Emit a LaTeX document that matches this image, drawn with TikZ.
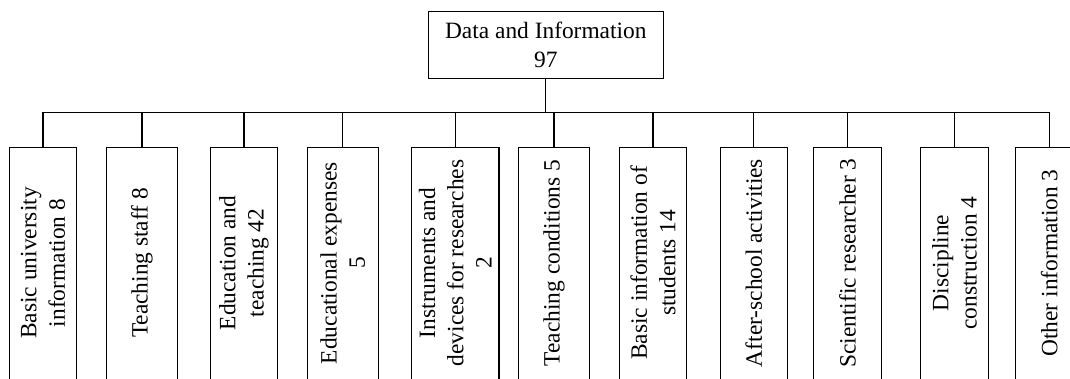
\documentclass[tikz,border=0pt]{standalone}
\usepackage{fontspec}
\setmainfont{Liberation Serif}
\begin{document}
\begin{tikzpicture}[x=1pt,y=-1pt,
  txt/.style={font=\fontsize{23.4}{28.3}\selectfont},
  rootbox/.style={draw, line width=1.1pt, minimum width=235pt, minimum height=66.6pt, inner sep=0pt, align=center, txt},
  leaf/.style={draw, line width=1.1pt, minimum height=236pt, inner sep=0pt, anchor=north},
  lbl/.style={rotate=90, align=center, inner sep=0pt, txt},
  link/.style={line width=1.1pt}]
\useasboundingbox (0,0) rectangle (1070,379);
\node[rootbox] (top) at (545.8,45) {Data and Information\\97};
\coordinate (bus) at (545.8,112.3);
\foreach \i/\cx/\w/\t in {
  1/43/67.4/{Basic university\\information 8},
  2/142/70.6/{Teaching staff 8},
  3/244/66.6/{Education and\\teaching 42},
  4/342.8/71/{Educational expenses\\5},
  5/455.3/87.3/{Instruments and\\devices for researches\\2},
  6/554/70.6/{Teaching conditions 5},
  7/653/67.4/{Basic information of\\students 14},
  8/753.7/67.3/{After-school activities},
  9/847.5/67.6/{Scientific researcher 3},
  10/954.5/67.6/{Discipline\\construction 4},
  11/1049.2/67.7/{Other information 3}} {
  \node[leaf, minimum width=\w pt] (b\i) at (\cx,146.7) {};
  \node[lbl] (t\i) at (\cx,263) {\t};
  \draw[link] (bus) -| (b\i.north);
}
\draw[link] (top.south) -- (bus);
\end{tikzpicture}
\end{document}
